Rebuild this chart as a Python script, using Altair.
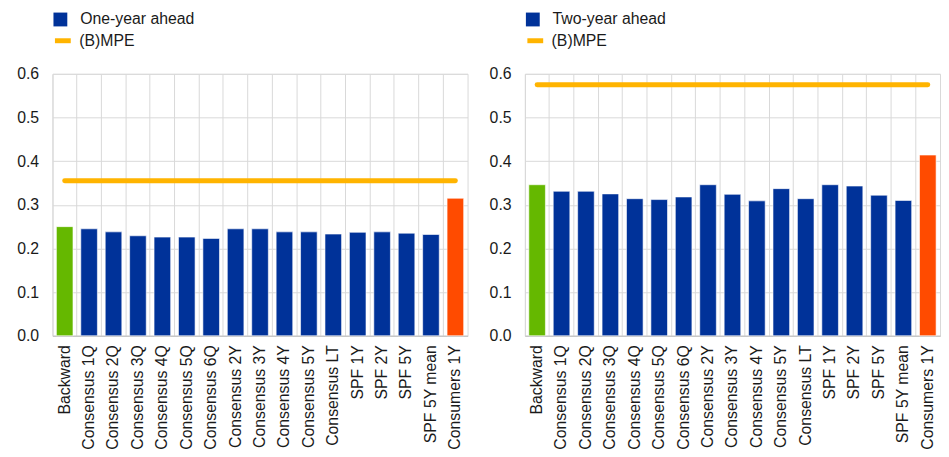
import altair as alt
import pandas as pd

categories = [
    "Backward", "Consensus 1Q", "Consensus 2Q", "Consensus 3Q", "Consensus 4Q",
    "Consensus 5Q", "Consensus 6Q", "Consensus 2Y", "Consensus 3Y", "Consensus 4Y",
    "Consensus 5Y", "Consensus LT", "SPF 1Y", "SPF 2Y", "SPF 5Y", "SPF 5Y mean",
    "Consumers 1Y",
]
one_year = [0.250, 0.245, 0.238, 0.229, 0.226, 0.226, 0.223, 0.245, 0.245, 0.238,
            0.238, 0.233, 0.237, 0.238, 0.235, 0.232, 0.315]
two_year = [0.346, 0.331, 0.331, 0.325, 0.314, 0.312, 0.318, 0.346, 0.324, 0.309,
            0.337, 0.314, 0.346, 0.343, 0.322, 0.310, 0.414]
mpe_one_year = 0.355
mpe_two_year = 0.575
y_ticks = [0.0, 0.1, 0.2, 0.3, 0.4, 0.5, 0.6]

BLUE = "#003299"
GREEN = "#65b800"
ORANGE = "#ff4b00"
YELLOW = "#ffb400"
GRID = "#d9d9d9"
TEXT = "#1a1a1a"
FONT = "Liberation Sans"


def panel(series_label, values, mpe):
    groups = []
    for c in categories:
        if c == "Backward":
            groups.append("Backward")
        elif c.startswith("Consumers"):
            groups.append("Consumers")
        else:
            groups.append(series_label)
    bars_df = pd.DataFrame({"category": categories, "value": values, "group": groups})
    line_df = pd.DataFrame({
        "category": categories,
        "value": [mpe] * len(categories),
        "series": ["(B)MPE"] * len(categories),
    })
    x = alt.X(
        "category:N", sort=categories, title=None,
        scale=alt.Scale(paddingInner=0, paddingOuter=0),
        axis=alt.Axis(labelAngle=-90, bandPosition=0, grid=True, ticks=False,
                      labelPadding=9, domainColor="#bfbfbf", gridColor=GRID),
    )
    y = alt.Y(
        "value:Q", title=None,
        scale=alt.Scale(domain=[0, 0.6], nice=False, zero=True),
        axis=alt.Axis(values=y_ticks, format=".1f", ticks=False, domain=False,
                      labelPadding=14, gridColor=GRID),
    )
    bars = alt.Chart(bars_df).mark_bar(
        width=alt.RelativeBandSize(0.68), stroke="#ffffff", strokeWidth=0.6
    ).encode(
        x=x, y=y,
        fill=alt.Fill(
            "group:N",
            scale=alt.Scale(domain=[series_label, "Backward", "Consumers"],
                            range=[BLUE, GREEN, ORANGE]),
            legend=alt.Legend(
                values=[series_label], title=None, orient="none",
                legendX=0, legendY=-63, symbolType="square", symbolSize=196,
                symbolStrokeWidth=0, labelOffset=12, padding=0,
                labelFontSize=16, labelFont=FONT, labelColor=TEXT,
            ),
        ),
    )
    line = alt.Chart(line_df).mark_line(strokeWidth=5, strokeCap="round").encode(
        x=x, y=y,
        stroke=alt.Stroke(
            "series:N",
            scale=alt.Scale(domain=["(B)MPE"], range=[YELLOW]),
            legend=alt.Legend(
                title=None, orient="none", legendX=0, legendY=-44,
                symbolType="stroke", symbolSize=256, symbolStrokeWidth=5,
                labelOffset=6, padding=0,
                labelFontSize=16, labelFont=FONT, labelColor=TEXT,
            ),
        ),
    )
    return alt.layer(bars, line).properties(width=420, height=265)


left = panel("One-year ahead", one_year, mpe_one_year)
right = panel("Two-year ahead", two_year, mpe_two_year)

chart = (
    alt.hconcat(left, right, spacing=20)
    .resolve_scale(fill="independent", stroke="independent")
    .resolve_legend(fill="independent", stroke="independent")
    .properties(padding={"left": 8, "top": 0, "right": 0, "bottom": 0})
    .configure_view(stroke=GRID)
    .configure_axis(labelFont=FONT, labelFontSize=16, labelColor=TEXT)
)

chart.save("out.html", embed_options={"renderer": "svg", "actions": False})
